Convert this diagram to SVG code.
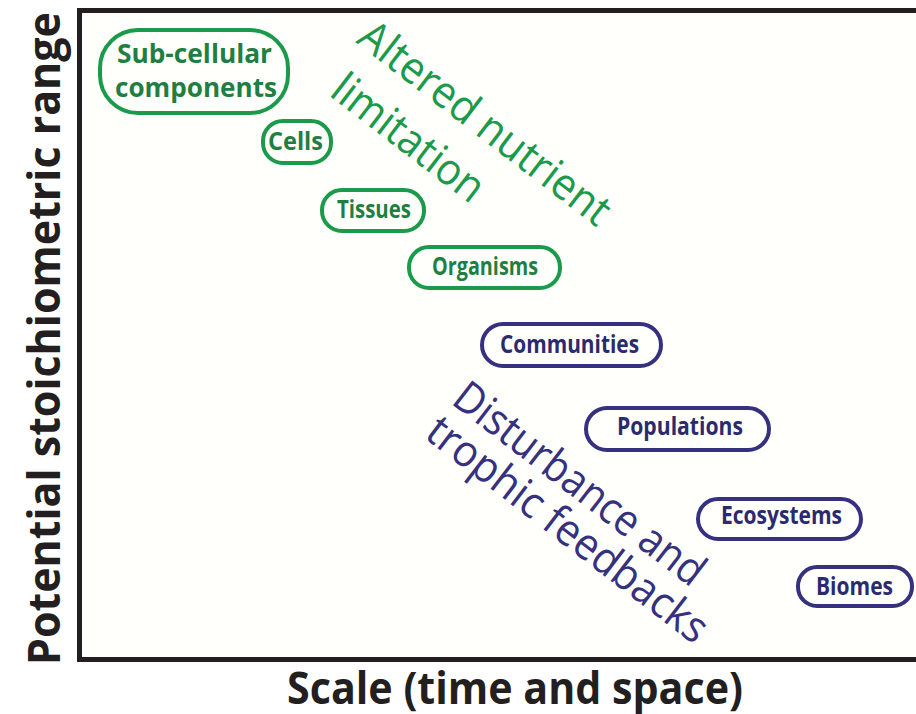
<svg xmlns="http://www.w3.org/2000/svg" width="916" height="714" viewBox="0 0 916 714">
<style>
.axis{fill:none;stroke:#231f20;stroke-width:5}
.axl{font-family:"Open Sans","Liberation Sans",sans-serif;font-weight:700;fill:#231f20;font-size:44px}
.gbox{fill:none;stroke:#1a9a4a;stroke-width:4}
.bbox{fill:none;stroke:#35317f;stroke-width:4}
.lbl{font-family:"Open Sans","Liberation Sans",sans-serif;font-weight:700;font-size:25px;text-anchor:middle}
.gt{fill:#1f7f42}
.bt{fill:#2b2a6e}
.rot{font-family:"Open Sans","Liberation Sans",sans-serif;font-weight:400;font-size:44px}
.gr{fill:#1a9a4a}
.br{fill:#35317f}
</style>
<rect x="0" y="0" width="916" height="714" fill="#ffffff"/>
<rect x="80" y="12" width="836" height="646" fill="#fffffb"/>
<g id="axes">
<polyline class="axis" points="916,10.5 79.5,10.5 79.5,659.5 916,659.5"/>
<text class="axl" transform="translate(60,665) rotate(-90)" x="0" y="0" textLength="653" lengthAdjust="spacingAndGlyphs">Potential stoichiometric range</text>
<text class="axl" x="287" y="704" textLength="456" lengthAdjust="spacingAndGlyphs">Scale (time and space)</text>
</g>
<g id="subcellular">
<rect class="gbox" x="100" y="30" width="188" height="83" rx="38"/>
<text class="lbl gt" style="font-size:27px" x="194.5" y="63" textLength="155" lengthAdjust="spacingAndGlyphs">Sub-cellular</text>
<text class="lbl gt" style="font-size:27px" x="196" y="97" textLength="162" lengthAdjust="spacingAndGlyphs">components</text>
</g>
<g id="cells">
<rect class="gbox" x="263" y="121" width="68" height="42" rx="20"/>
<text class="lbl gt" x="295.5" y="150" textLength="55" lengthAdjust="spacingAndGlyphs">Cells</text>
</g>
<g id="tissues">
<rect class="gbox" x="322" y="190" width="102" height="41" rx="20"/>
<text class="lbl gt" x="374" y="218" textLength="74" lengthAdjust="spacingAndGlyphs">Tissues</text>
</g>
<g id="organisms">
<rect class="gbox" x="409" y="247" width="151" height="41" rx="20"/>
<text class="lbl gt" x="485" y="275" textLength="106" lengthAdjust="spacingAndGlyphs">Organisms</text>
</g>
<g id="communities">
<rect class="bbox" x="482" y="324" width="179" height="42" rx="21"/>
<text class="lbl bt" x="569.5" y="353" textLength="139" lengthAdjust="spacingAndGlyphs">Communities</text>
</g>
<g id="populations">
<rect class="bbox" x="586" y="408" width="183" height="42" rx="21"/>
<text class="lbl bt" x="680" y="435" textLength="126" lengthAdjust="spacingAndGlyphs">Populations</text>
</g>
<g id="ecosystems">
<rect class="bbox" x="698" y="499" width="163" height="40" rx="20"/>
<text class="lbl bt" x="781.5" y="524" textLength="121" lengthAdjust="spacingAndGlyphs">Ecosystems</text>
</g>
<g id="biomes">
<rect class="bbox" x="798" y="567" width="114" height="39" rx="19"/>
<text class="lbl bt" x="854.5" y="595" textLength="77" lengthAdjust="spacingAndGlyphs">Biomes</text>
</g>
<g id="altered-nutrient-limitation">
<text class="rot gr" transform="translate(355,42) rotate(37.5)" x="0" y="0" textLength="305" lengthAdjust="spacingAndGlyphs">Altered nutrient</text>
<text class="rot gr" transform="translate(328,95) rotate(37.5)" x="0" y="0" textLength="180" lengthAdjust="spacingAndGlyphs">limitation</text>
</g>
<g id="disturbance-trophic-feedbacks">
<text class="rot br" transform="translate(450,403) rotate(37.5)" x="0" y="0" textLength="304" lengthAdjust="spacingAndGlyphs">Disturbance and</text>
<text class="rot br" transform="translate(423,437) rotate(37.5)" x="0" y="0" textLength="342" lengthAdjust="spacingAndGlyphs">trophic feedbacks</text>
</g>
<g id="connectors"></g>
</svg>
